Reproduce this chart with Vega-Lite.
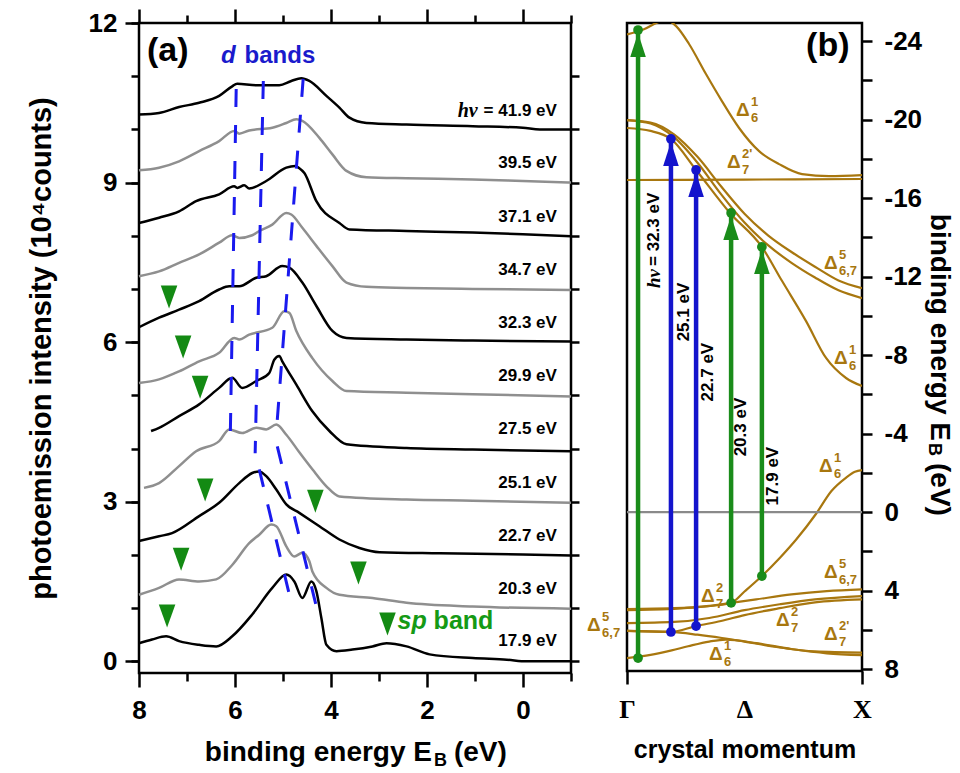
{
"$schema": "https://vega.github.io/schema/vega-lite/v6.json",
"autosize": {"type": "pad"},
"padding": {"left": 25, "top": 6, "right": 0, "bottom": 0},
"bounds": "flush",
"spacing": 56,
"background": "white",
"resolve": {"scale": {"color": "independent"}},
"config": {
 "view": {"stroke": "black", "strokeWidth": 2.5},
 "axis": {"grid": false, "domain": false, "ticks": true, "tickColor": "black", "tickWidth": 2.5, "labelFont": "Liberation Sans", "labelFontWeight": "bold", "labelFontSize": 26, "labelColor": "black", "labelFlush": false, "labelOverlap": false, "titleFont": "Liberation Sans", "titleFontWeight": "bold", "titleFontSize": 28, "titleColor": "black"},
 "text": {"font": "Liberation Sans", "fontWeight": "bold", "color": "black"}
},
"datasets": {
 "spectra": [
  {"s":"41.9","E":8.0,"I":10.28},{"s":"41.9","E":7.582,"I":10.31},{"s":"41.9","E":7.165,"I":10.42},{"s":"41.9","E":6.747,"I":10.5},{"s":"41.9","E":6.33,"I":10.63},{"s":"41.9","E":6.058,"I":10.81},{"s":"41.9","E":5.954,"I":10.86},{"s":"41.9","E":5.557,"I":10.83},{"s":"41.9","E":5.077,"I":10.83},{"s":"41.9","E":4.827,"I":10.91},{"s":"41.9","E":4.618,"I":10.96},{"s":"41.9","E":4.451,"I":10.91},{"s":"41.9","E":4.096,"I":10.63},{"s":"41.9","E":3.825,"I":10.41},{"s":"41.9","E":3.616,"I":10.22},{"s":"41.9","E":3.261,"I":10.12},{"s":"41.9","E":2.426,"I":10.09},{"s":"41.9","E":1.048,"I":10.06},{"s":"41.9","E":0.004,"I":10.03},{"s":"41.9","E":-0.351,"I":10.0},{"s":"41.9","E":-1.0,"I":10.0},
  {"s":"39.5","E":8.0,"I":9.23},{"s":"39.5","E":7.582,"I":9.28},{"s":"39.5","E":7.165,"I":9.4},{"s":"39.5","E":6.747,"I":9.59},{"s":"39.5","E":6.33,"I":9.78},{"s":"39.5","E":6.017,"I":9.97},{"s":"39.5","E":5.912,"I":9.92},{"s":"39.5","E":5.704,"I":9.98},{"s":"39.5","E":5.223,"I":10.03},{"s":"39.5","E":4.931,"I":10.12},{"s":"39.5","E":4.722,"I":10.19},{"s":"39.5","E":4.597,"I":10.16},{"s":"39.5","E":4.242,"I":9.84},{"s":"39.5","E":3.971,"I":9.53},{"s":"39.5","E":3.678,"I":9.22},{"s":"39.5","E":3.261,"I":9.1},{"s":"39.5","E":2.426,"I":9.08},{"s":"39.5","E":1.048,"I":9.06},{"s":"39.5","E":0.004,"I":9.03},{"s":"39.5","E":-1.0,"I":9.0},
  {"s":"37.1","E":8.0,"I":8.24},{"s":"37.1","E":7.582,"I":8.34},{"s":"37.1","E":7.165,"I":8.46},{"s":"37.1","E":6.81,"I":8.65},{"s":"37.1","E":6.33,"I":8.78},{"s":"37.1","E":6.017,"I":8.93},{"s":"37.1","E":5.954,"I":8.9},{"s":"37.1","E":5.808,"I":8.95},{"s":"37.1","E":5.704,"I":8.89},{"s":"37.1","E":5.349,"I":9.03},{"s":"37.1","E":4.931,"I":9.28},{"s":"37.1","E":4.743,"I":9.31},{"s":"37.1","E":4.66,"I":9.27},{"s":"37.1","E":4.555,"I":9.18},{"s":"37.1","E":4.305,"I":8.65},{"s":"37.1","E":3.825,"I":8.24},{"s":"37.1","E":3.616,"I":8.12},{"s":"37.1","E":2.426,"I":8.09},{"s":"37.1","E":1.048,"I":8.06},{"s":"37.1","E":0.004,"I":8.03},{"s":"37.1","E":-1.0,"I":7.99},
  {"s":"34.7","E":8.0,"I":7.24},{"s":"34.7","E":7.582,"I":7.33},{"s":"34.7","E":7.165,"I":7.49},{"s":"34.7","E":6.747,"I":7.65},{"s":"34.7","E":6.33,"I":7.87},{"s":"34.7","E":6.058,"I":8.01},{"s":"34.7","E":5.912,"I":7.96},{"s":"34.7","E":5.641,"I":8.01},{"s":"34.7","E":5.495,"I":8.09},{"s":"34.7","E":5.223,"I":8.21},{"s":"34.7","E":4.931,"I":8.43},{"s":"34.7","E":4.827,"I":8.4},{"s":"34.7","E":4.597,"I":8.15},{"s":"34.7","E":4.305,"I":7.81},{"s":"34.7","E":3.971,"I":7.43},{"s":"34.7","E":3.678,"I":7.12},{"s":"34.7","E":3.261,"I":7.04},{"s":"34.7","E":2.426,"I":7.02},{"s":"34.7","E":1.048,"I":7.0},{"s":"34.7","E":-1.0,"I":6.98},
  {"s":"32.3","E":8.0,"I":6.28},{"s":"32.3","E":7.582,"I":6.46},{"s":"32.3","E":7.165,"I":6.61},{"s":"32.3","E":6.747,"I":6.77},{"s":"32.3","E":6.33,"I":6.99},{"s":"32.3","E":6.121,"I":7.05},{"s":"32.3","E":5.912,"I":7.05},{"s":"32.3","E":5.557,"I":7.21},{"s":"32.3","E":5.349,"I":7.24},{"s":"32.3","E":5.015,"I":7.43},{"s":"32.3","E":4.868,"I":7.4},{"s":"32.3","E":4.597,"I":7.12},{"s":"32.3","E":4.305,"I":6.68},{"s":"32.3","E":3.971,"I":6.21},{"s":"32.3","E":3.678,"I":6.08},{"s":"32.3","E":2.426,"I":6.05},{"s":"32.3","E":1.048,"I":6.03},{"s":"32.3","E":-1.0,"I":6.01},
  {"s":"29.9","E":8.0,"I":5.23},{"s":"29.9","E":7.582,"I":5.3},{"s":"29.9","E":7.165,"I":5.45},{"s":"29.9","E":6.747,"I":5.64},{"s":"29.9","E":6.33,"I":5.8},{"s":"29.9","E":6.017,"I":6.08},{"s":"29.9","E":5.912,"I":6.05},{"s":"29.9","E":5.704,"I":6.14},{"s":"29.9","E":5.223,"I":6.27},{"s":"29.9","E":4.973,"I":6.58},{"s":"29.9","E":4.868,"I":6.55},{"s":"29.9","E":4.722,"I":6.21},{"s":"29.9","E":4.388,"I":5.7},{"s":"29.9","E":3.971,"I":5.27},{"s":"29.9","E":3.678,"I":5.08},{"s":"29.9","E":2.426,"I":5.05},{"s":"29.9","E":1.048,"I":5.02},{"s":"29.9","E":-1.0,"I":4.98},
  {"s":"27.5","E":7.749,"I":4.33},{"s":"27.5","E":7.582,"I":4.39},{"s":"27.5","E":7.165,"I":4.61},{"s":"27.5","E":6.747,"I":4.83},{"s":"27.5","E":6.33,"I":5.14},{"s":"27.5","E":6.058,"I":5.33},{"s":"27.5","E":5.85,"I":5.14},{"s":"27.5","E":5.557,"I":5.27},{"s":"27.5","E":5.286,"I":5.42},{"s":"27.5","E":5.182,"I":5.67},{"s":"27.5","E":5.077,"I":5.74},{"s":"27.5","E":5.015,"I":5.64},{"s":"27.5","E":4.722,"I":5.2},{"s":"27.5","E":4.388,"I":4.7},{"s":"27.5","E":4.033,"I":4.33},{"s":"27.5","E":3.678,"I":4.08},{"s":"27.5","E":2.426,"I":4.01},{"s":"27.5","E":1.048,"I":3.98},{"s":"27.5","E":-1.0,"I":3.95},
  {"s":"25.1","E":7.896,"I":3.26},{"s":"25.1","E":7.582,"I":3.35},{"s":"25.1","E":7.165,"I":3.67},{"s":"25.1","E":6.81,"I":3.95},{"s":"25.1","E":6.33,"I":4.14},{"s":"25.1","E":6.121,"I":4.36},{"s":"25.1","E":5.85,"I":4.29},{"s":"25.1","E":5.557,"I":4.39},{"s":"25.1","E":5.349,"I":4.36},{"s":"25.1","E":5.14,"I":4.45},{"s":"25.1","E":4.931,"I":4.26},{"s":"25.1","E":4.66,"I":3.93},{"s":"25.1","E":4.388,"I":3.61},{"s":"25.1","E":4.096,"I":3.29},{"s":"25.1","E":3.825,"I":3.1},{"s":"25.1","E":2.426,"I":3.04},{"s":"25.1","E":1.048,"I":3.02},{"s":"25.1","E":-1.0,"I":2.98},
  {"s":"22.7","E":8.0,"I":2.26},{"s":"22.7","E":7.582,"I":2.35},{"s":"22.7","E":7.311,"I":2.41},{"s":"22.7","E":6.747,"I":2.73},{"s":"22.7","E":6.33,"I":2.98},{"s":"22.7","E":5.912,"I":3.35},{"s":"22.7","E":5.641,"I":3.54},{"s":"22.7","E":5.495,"I":3.57},{"s":"22.7","E":5.349,"I":3.48},{"s":"22.7","E":5.14,"I":3.23},{"s":"22.7","E":4.931,"I":2.95},{"s":"22.7","E":4.66,"I":2.79},{"s":"22.7","E":4.242,"I":2.54},{"s":"22.7","E":3.825,"I":2.29},{"s":"22.7","E":3.407,"I":2.13},{"s":"22.7","E":2.99,"I":2.05},{"s":"22.7","E":1.737,"I":2.03},{"s":"22.7","E":0.004,"I":2.01},{"s":"22.7","E":-1.0,"I":1.99},
  {"s":"20.3","E":8.0,"I":1.25},{"s":"20.3","E":7.582,"I":1.38},{"s":"20.3","E":7.165,"I":1.54},{"s":"20.3","E":6.747,"I":1.5},{"s":"20.3","E":6.392,"I":1.54},{"s":"20.3","E":6.058,"I":1.81},{"s":"20.3","E":5.704,"I":2.22},{"s":"20.3","E":5.495,"I":2.38},{"s":"20.3","E":5.244,"I":2.57},{"s":"20.3","E":5.14,"I":2.54},{"s":"20.3","E":4.931,"I":2.16},{"s":"20.3","E":4.764,"I":1.97},{"s":"20.3","E":4.597,"I":2.04},{"s":"20.3","E":4.451,"I":1.88},{"s":"20.3","E":4.388,"I":1.69},{"s":"20.3","E":4.096,"I":1.38},{"s":"20.3","E":3.825,"I":1.25},{"s":"20.3","E":3.136,"I":1.19},{"s":"20.3","E":2.426,"I":1.1},{"s":"20.3","E":1.048,"I":1.03},{"s":"20.3","E":-1.0,"I":0.99},
  {"s":"17.9","E":8.0,"I":0.34},{"s":"17.9","E":7.729,"I":0.41},{"s":"17.9","E":7.436,"I":0.47},{"s":"17.9","E":7.165,"I":0.38},{"s":"17.9","E":6.747,"I":0.31},{"s":"17.9","E":6.392,"I":0.28},{"s":"17.9","E":6.058,"I":0.47},{"s":"17.9","E":5.641,"I":0.88},{"s":"17.9","E":5.223,"I":1.38},{"s":"17.9","E":4.931,"I":1.63},{"s":"17.9","E":4.764,"I":1.5},{"s":"17.9","E":4.597,"I":1.19},{"s":"17.9","E":4.409,"I":1.5},{"s":"17.9","E":4.305,"I":1.32},{"s":"17.9","E":4.2,"I":0.81},{"s":"17.9","E":4.096,"I":0.31},{"s":"17.9","E":3.887,"I":0.19},{"s":"17.9","E":3.553,"I":0.22},{"s":"17.9","E":3.136,"I":0.28},{"s":"17.9","E":2.843,"I":0.34},{"s":"17.9","E":2.426,"I":0.28},{"s":"17.9","E":1.946,"I":0.13},{"s":"17.9","E":1.048,"I":0.06},{"s":"17.9","E":0.338,"I":0.03},{"s":"17.9","E":-0.079,"I":0.0},{"s":"17.9","E":-1.0,"I":0.0}
 ],
 "tri": [
  {"E":7.374,"I":6.85},{"E":7.081,"I":5.91},{"E":6.727,"I":5.15},{"E":6.622,"I":3.22},{"E":4.326,"I":3.01},{"E":7.123,"I":1.92},{"E":3.428,"I":1.66},{"E":7.415,"I":0.85},{"E":2.823,"I":0.7}
 ],
 "dband": [
  {"E1":5.975,"I1":10.76,"E2":6.1,"I2":4.14},
  {"E1":5.41,"I1":10.91,"E2":5.58,"I2":3.91},
  {"E1":4.58,"I1":10.95,"E2":5.14,"I2":4.29},
  {"E1":5.495,"I1":3.61,"E2":4.848,"I2":1.18},
  {"E1":5.119,"I1":4.04,"E2":4.305,"I2":1.03}
 ],
 "slabels": [
  {"t":"= 41.9 eV","E":-0.706,"I":10.35},{"t":"39.5 eV","E":-0.706,"I":9.36},{"t":"37.1 eV","E":-0.706,"I":8.36},{"t":"34.7 eV","E":-0.706,"I":7.36},{"t":"32.3 eV","E":-0.706,"I":6.36},{"t":"29.9 eV","E":-0.706,"I":5.36},{"t":"27.5 eV","E":-0.706,"I":4.36},{"t":"25.1 eV","E":-0.706,"I":3.36},{"t":"22.7 eV","E":-0.706,"I":2.36},{"t":"20.3 eV","E":-0.706,"I":1.36},{"t":"17.9 eV","E":-0.706,"I":0.38}
 ],
 "bands": [
  {"b":"top","k":0,"E":-24.34},{"b":"top","k":0.072,"E":-24.6},{"b":"top","k":0.13,"E":-24.95},{"b":"top","k":0.165,"E":-25.08},{"b":"top","k":0.209,"E":-24.76},{"b":"top","k":0.264,"E":-23.85},{"b":"top","k":0.336,"E":-22.32},{"b":"top","k":0.404,"E":-20.94},{"b":"top","k":0.477,"E":-19.57},{"b":"top","k":0.562,"E":-18.39},{"b":"top","k":0.647,"E":-17.73},{"b":"top","k":0.745,"E":-17.22},{"b":"top","k":0.86,"E":-17.12},{"b":"top","k":1.0,"E":-17.17},
  {"b":"flat","k":0,"E":-16.92},{"b":"flat","k":0.5,"E":-16.94},{"b":"flat","k":1.0,"E":-16.97},
  {"b":"La","k":0,"E":-19.97},{"b":"La","k":0.1,"E":-19.85},{"b":"La","k":0.2,"E":-19.25},{"b":"La","k":0.3,"E":-18.1},{"b":"La","k":0.4,"E":-16.6},{"b":"La","k":0.5,"E":-15.2},{"b":"La","k":0.6,"E":-14.1},{"b":"La","k":0.7,"E":-13.25},{"b":"La","k":0.8,"E":-12.5},{"b":"La","k":0.9,"E":-11.8},{"b":"La","k":1.0,"E":-11.41},
  {"b":"Lb","k":0,"E":-19.97},{"b":"Lb","k":0.1,"E":-19.8},{"b":"Lb","k":0.2,"E":-19.1},{"b":"Lb","k":0.3,"E":-17.8},{"b":"Lb","k":0.4,"E":-16.2},{"b":"Lb","k":0.5,"E":-14.75},{"b":"Lb","k":0.6,"E":-13.6},{"b":"Lb","k":0.7,"E":-12.7},{"b":"Lb","k":0.8,"E":-11.95},{"b":"Lb","k":0.9,"E":-11.3},{"b":"Lb","k":1.0,"E":-10.9},
  {"b":"Lc","k":0,"E":-19.57},{"b":"Lc","k":0.1,"E":-19.42},{"b":"Lc","k":0.187,"E":-19.01},{"b":"Lc","k":0.294,"E":-17.43},{"b":"Lc","k":0.438,"E":-15.24},{"b":"Lc","k":0.574,"E":-13.51},{"b":"Lc","k":0.66,"E":-11.77},{"b":"Lc","k":0.762,"E":-9.73},{"b":"Lc","k":0.847,"E":-7.85},{"b":"Lc","k":0.932,"E":-6.83},{"b":"Lc","k":1.0,"E":-6.42},
  {"b":"D1","k":0,"E":5.0},{"b":"D1","k":0.1,"E":4.98},{"b":"D1","k":0.2,"E":4.93},{"b":"D1","k":0.3,"E":4.85},{"b":"D1","k":0.38,"E":4.75},{"b":"D1","k":0.443,"E":4.63},{"b":"D1","k":0.5,"E":4.05},{"b":"D1","k":0.574,"E":3.26},{"b":"D1","k":0.65,"E":2.34},{"b":"D1","k":0.72,"E":1.4},{"b":"D1","k":0.804,"E":0.1},{"b":"D1","k":0.87,"E":-1.07},{"b":"D1","k":0.93,"E":-1.73},{"b":"D1","k":0.97,"E":-2.05},{"b":"D1","k":1.0,"E":-2.14},
  {"b":"T1","k":0,"E":4.94},{"b":"T1","k":0.2,"E":4.9},{"b":"T1","k":0.35,"E":4.78},{"b":"T1","k":0.443,"E":4.63},{"b":"T1","k":0.55,"E":4.45},{"b":"T1","k":0.7,"E":4.2},{"b":"T1","k":0.85,"E":4.03},{"b":"T1","k":1.0,"E":3.94},
  {"b":"M1","k":0,"E":5.66},{"b":"M1","k":0.2,"E":5.6},{"b":"M1","k":0.35,"E":5.4},{"b":"M1","k":0.5,"E":5.0},{"b":"M1","k":0.65,"E":4.7},{"b":"M1","k":0.8,"E":4.45},{"b":"M1","k":1.0,"E":4.28},
  {"b":"M2","k":0,"E":6.06},{"b":"M2","k":0.187,"E":6.11},{"b":"M2","k":0.294,"E":5.81},{"b":"M2","k":0.4,"E":5.55},{"b":"M2","k":0.5,"E":5.25},{"b":"M2","k":0.65,"E":4.9},{"b":"M2","k":0.8,"E":4.6},{"b":"M2","k":1.0,"E":4.45},
  {"b":"L1","k":0,"E":6.06},{"b":"L1","k":0.187,"E":6.11},{"b":"L1","k":0.3,"E":6.25},{"b":"L1","k":0.404,"E":6.42},{"b":"L1","k":0.5,"E":6.6},{"b":"L1","k":0.65,"E":6.9},{"b":"L1","k":0.8,"E":7.1},{"b":"L1","k":1.0,"E":7.16},
  {"b":"L2","k":0,"E":7.44},{"b":"L2","k":0.1,"E":7.28},{"b":"L2","k":0.19,"E":7.05},{"b":"L2","k":0.26,"E":6.84},{"b":"L2","k":0.35,"E":6.6},{"b":"L2","k":0.42,"E":6.5},{"b":"L2","k":0.55,"E":6.68},{"b":"L2","k":0.7,"E":6.98},{"b":"L2","k":0.85,"E":7.2},{"b":"L2","k":1.0,"E":7.29}
 ],
 "arrows": [
  {"hv":"32.3","k":0.047,"Eb":7.44,"Et":-24.56},
  {"hv":"25.1","k":0.187,"Eb":6.11,"Et":-19.01},
  {"hv":"22.7","k":0.294,"Eb":5.81,"Et":-17.43},
  {"hv":"20.3","k":0.443,"Eb":4.63,"Et":-15.24},
  {"hv":"17.9","k":0.574,"Eb":3.26,"Et":-13.51}
 ],
 "alabels": [
  {"t":"25.1 eV","k":0.243,"E":-10.19},{"t":"22.7 eV","k":0.345,"E":-7.13},{"t":"20.3 eV","k":0.487,"E":-4.33},{"t":"17.9 eV","k":0.621,"E":-1.83}
 ],
 "blabels": [
  {"k":0.464,"E":-20.48,"sup":"1","sub":"6"},
  {"k":0.426,"E":-17.83,"sup":"2'","sub":"7"},
  {"k":0.838,"E":-12.69,"sup":"5","sub":"6,7"},
  {"k":0.881,"E":-7.85,"sup":"1","sub":"6"},
  {"k":0.817,"E":-2.34,"sup":"1","sub":"6"},
  {"k":0.838,"E":3.06,"sup":"5","sub":"6,7"},
  {"k":0.315,"E":4.28,"sup":"2","sub":"7"},
  {"k":-0.17,"E":5.76,"sup":"5","sub":"6,7"},
  {"k":0.634,"E":5.48,"sup":"2","sub":"7"},
  {"k":0.838,"E":6.22,"sup":"2'","sub":"7"},
  {"k":0.349,"E":7.24,"sup":"1","sub":"6"}
 ]
},
"hconcat": [
 {
  "width": 432, "height": 650,
  "resolve": {"axis": {"x": "independent", "y": "independent"}},
  "layer": [
   {"data": {"name": "spectra"}, "mark": {"type": "line", "strokeWidth": 2.5, "interpolate": "monotone"},
    "encoding": {
     "x": {"field": "E", "type": "quantitative", "scale": {"domain": [-1, 8], "reverse": true, "nice": false, "zero": false}, "axis": {"orient": "bottom", "values": [8, 6, 4, 2, 0], "tickSize": 14, "labelPadding": 10, "title": null}},
     "y": {"field": "I", "type": "quantitative", "scale": {"domain": [-0.22, 12], "nice": false, "zero": false}, "axis": {"orient": "left", "values": [0, 3, 6, 9, 12], "tickSize": 14, "labelPadding": 8, "title": "photoemission intensity (10⁴counts)", "titleFontSize": 29, "titlePadding": 32}},
     "color": {"field": "s", "type": "nominal", "scale": {"domain": ["41.9","39.5","37.1","34.7","32.3","29.9","27.5","25.1","22.7","20.3","17.9"], "range": ["#000000","#8f8f8f","#000000","#8f8f8f","#000000","#8f8f8f","#000000","#8f8f8f","#000000","#8f8f8f","#000000"]}, "legend": null},
     "order": {"field": "E", "sort": "descending"}
    }},
   {"data": {"name": "tri"}, "mark": {"type": "point", "shape": "M-0.72,-1L0.72,-1L0,1Z", "size": 529, "filled": true, "color": "#138a13", "opacity": 1, "strokeWidth": 0},
    "encoding": {
     "x": {"field": "E", "type": "quantitative", "scale": {"domain": [-1, 8], "reverse": true, "nice": false, "zero": false}, "axis": {"orient": "bottom", "values": [7, 5, 3, 1, -1], "tickSize": 8, "labels": false, "title": null}},
     "y": {"field": "I", "type": "quantitative", "scale": {"domain": [-0.22, 12], "nice": false, "zero": false}, "axis": {"orient": "left", "values": [0,1,2,3,4,5,6,7,8,9,10,11,12], "tickSize": 8, "labels": false, "title": null}}
    }},
   {"data": {"name": "dband"}, "mark": {"type": "rule", "color": "#1a1aee", "strokeWidth": 3, "strokeDash": [18, 18]},
    "encoding": {
     "x": {"field": "E1", "type": "quantitative", "scale": {"domain": [-1, 8], "reverse": true, "nice": false, "zero": false}, "axis": {"orient": "top", "values": [8, 6, 4, 2, 0], "tickSize": 14, "labels": false, "title": null}},
     "y": {"field": "I1", "type": "quantitative", "scale": {"domain": [-0.22, 12], "nice": false, "zero": false}, "axis": {"orient": "right", "values": [0,1,2,3,4,5,6,7,8,9,10,11], "tickSize": 8, "labels": false, "title": null}},
     "x2": {"field": "E2"},
     "y2": {"field": "I2"}
    }},
   {"data": {"name": "slabels"}, "mark": {"type": "text", "align": "right", "baseline": "middle", "fontSize": 17},
    "encoding": {
     "x": {"field": "E", "type": "quantitative", "scale": {"domain": [-1, 8], "reverse": true, "nice": false, "zero": false}, "axis": {"orient": "top", "values": [7, 5, 3, 1, -1], "tickSize": 8, "labels": false, "title": null}},
     "y": {"field": "I", "type": "quantitative", "scale": {"domain": [-0.22, 12], "nice": false, "zero": false}, "axis": null},
     "text": {"field": "t"}
    }},
   {"data": {"values": [{"t": "hν", "E": 0.944, "I": 10.35}]}, "mark": {"type": "text", "align": "right", "baseline": "middle", "fontSize": 20, "font": "Liberation Serif", "fontStyle": "italic", "fontWeight": "bold"},
    "encoding": {"x": {"field": "E", "type": "quantitative", "scale": {"domain": [-1, 8], "reverse": true, "nice": false, "zero": false}, "axis": null}, "y": {"field": "I", "type": "quantitative", "scale": {"domain": [-0.22, 12], "nice": false, "zero": false}, "axis": null}, "text": {"field": "t"}}},
   {"data": {"values": [{"t": "(a)", "E": 7.833, "I": 11.47}]}, "mark": {"type": "text", "align": "left", "baseline": "middle", "fontSize": 34},
    "encoding": {"x": {"field": "E", "type": "quantitative", "scale": {"domain": [-1, 8], "reverse": true, "nice": false, "zero": false}, "axis": null}, "y": {"field": "I", "type": "quantitative", "scale": {"domain": [-0.22, 12], "nice": false, "zero": false}, "axis": null}, "text": {"field": "t"}}},
   {"data": {"values": [{"t": "d", "E": 6.29, "I": 11.38}]}, "mark": {"type": "text", "align": "left", "baseline": "middle", "fontSize": 24, "fontStyle": "italic", "color": "#1a1acc"},
    "encoding": {"x": {"field": "E", "type": "quantitative", "scale": {"domain": [-1, 8], "reverse": true, "nice": false, "zero": false}, "axis": null}, "y": {"field": "I", "type": "quantitative", "scale": {"domain": [-0.22, 12], "nice": false, "zero": false}, "axis": null}, "text": {"field": "t"}}},
   {"data": {"values": [{"t": "bands", "E": 5.8, "I": 11.38}]}, "mark": {"type": "text", "align": "left", "baseline": "middle", "fontSize": 24, "color": "#1a1acc"},
    "encoding": {"x": {"field": "E", "type": "quantitative", "scale": {"domain": [-1, 8], "reverse": true, "nice": false, "zero": false}, "axis": null}, "y": {"field": "I", "type": "quantitative", "scale": {"domain": [-0.22, 12], "nice": false, "zero": false}, "axis": null}, "text": {"field": "t"}}},
   {"data": {"values": [{"t": "sp", "E": 2.614, "I": 0.75}]}, "mark": {"type": "text", "align": "left", "baseline": "middle", "fontSize": 25, "fontStyle": "italic", "color": "#159a15"},
    "encoding": {"x": {"field": "E", "type": "quantitative", "scale": {"domain": [-1, 8], "reverse": true, "nice": false, "zero": false}, "axis": null}, "y": {"field": "I", "type": "quantitative", "scale": {"domain": [-0.22, 12], "nice": false, "zero": false}, "axis": null}, "text": {"field": "t"}}},
   {"data": {"values": [{"t": "band", "E": 1.862, "I": 0.75}]}, "mark": {"type": "text", "align": "left", "baseline": "middle", "fontSize": 25, "color": "#159a15"},
    "encoding": {"x": {"field": "E", "type": "quantitative", "scale": {"domain": [-1, 8], "reverse": true, "nice": false, "zero": false}, "axis": null}, "y": {"field": "I", "type": "quantitative", "scale": {"domain": [-0.22, 12], "nice": false, "zero": false}, "axis": null}, "text": {"field": "t"}}},
   {"data": {"values": [{"t": "binding energy E", "E": 1.896, "I": -1.724}]}, "mark": {"type": "text", "align": "right", "baseline": "middle", "fontSize": 28},
    "encoding": {"x": {"field": "E", "type": "quantitative", "scale": {"domain": [-1, 8], "reverse": true, "nice": false, "zero": false}, "axis": null}, "y": {"field": "I", "type": "quantitative", "scale": {"domain": [-0.22, 12], "nice": false, "zero": false}, "axis": null}, "text": {"field": "t"}}},
   {"data": {"values": [{"t": "B", "E": 1.854, "I": -1.88}]}, "mark": {"type": "text", "align": "left", "baseline": "middle", "fontSize": 18},
    "encoding": {"x": {"field": "E", "type": "quantitative", "scale": {"domain": [-1, 8], "reverse": true, "nice": false, "zero": false}, "axis": null}, "y": {"field": "I", "type": "quantitative", "scale": {"domain": [-0.22, 12], "nice": false, "zero": false}, "axis": null}, "text": {"field": "t"}}},
   {"data": {"values": [{"t": "(eV)", "E": 1.44, "I": -1.724}]}, "mark": {"type": "text", "align": "left", "baseline": "middle", "fontSize": 28},
    "encoding": {"x": {"field": "E", "type": "quantitative", "scale": {"domain": [-1, 8], "reverse": true, "nice": false, "zero": false}, "axis": null}, "y": {"field": "I", "type": "quantitative", "scale": {"domain": [-0.22, 12], "nice": false, "zero": false}, "axis": null}, "text": {"field": "t"}}}
  ]
 },
 {
  "width": 235, "height": 648,
  "resolve": {"axis": {"x": "independent", "y": "independent"}},
  "layer": [
   {"data": {"name": "bands"}, "mark": {"type": "line", "strokeWidth": 2.2, "color": "#a8770f", "interpolate": "monotone", "clip": true},
    "encoding": {
     "x": {"field": "k", "type": "quantitative", "scale": {"domain": [0, 1], "nice": false, "zero": false}, "axis": {"orient": "bottom", "values": [0, 0.5, 1], "labelExpr": "datum.value == 0 ? 'Γ' : (datum.value == 1 ? 'X' : 'Δ')", "labelFont": "Liberation Serif", "labelFontSize": 26, "tickSize": 13, "tickOpacity": {"condition": {"test": "datum.value == 0.5", "value": 0}, "value": 1}, "labelPadding": 12, "title": "crystal momentum", "titleFontSize": 25, "titlePadding": 15}},
     "y": {"field": "E", "type": "quantitative", "scale": {"domain": [-24.92, 8.1], "reverse": true, "nice": false, "zero": false}, "axis": {"orient": "right", "values": [-24,-22,-20,-18,-16,-14,-12,-10,-8,-6,-4,-2,0,2,4,6,8], "labelExpr": "datum.value % 4 == 0 ? (datum.value < 0 ? '-' + abs(datum.value) : '' + datum.value) : ''", "tickSize": 10, "labelPadding": 12, "title": null}},
     "detail": {"field": "b", "type": "nominal"},
     "order": {"field": "k", "sort": "ascending"}
    }},
   {"data": {"values": [{"E": 0}]}, "mark": {"type": "rule", "color": "#8a8a8a", "strokeWidth": 2.2},
    "encoding": {"y": {"field": "E", "type": "quantitative", "scale": {"domain": [-24.92, 8.1], "reverse": true, "nice": false, "zero": false}, "axis": null}}},
   {"data": {"name": "arrows"}, "mark": {"type": "rule", "strokeWidth": 4.5},
    "encoding": {
     "x": {"field": "k", "type": "quantitative", "scale": {"domain": [0, 1], "nice": false, "zero": false}, "axis": null},
     "y": {"field": "Eb", "type": "quantitative", "scale": {"domain": [-24.92, 8.1], "reverse": true, "nice": false, "zero": false}, "axis": null},
     "y2": {"field": "Et"},
     "color": {"field": "hv", "type": "nominal", "scale": {"domain": ["32.3","25.1","22.7","20.3","17.9"], "range": ["#1a8c1a","#1414cc","#1414cc","#1a8c1a","#1a8c1a"]}, "legend": null}
    }},
   {"data": {"name": "arrows"}, "mark": {"type": "point", "shape": "M0,-1L0.65,1L-0.65,1Z", "size": 576, "filled": true, "opacity": 1, "strokeWidth": 0, "yOffset": 15},
    "encoding": {
     "x": {"field": "k", "type": "quantitative", "scale": {"domain": [0, 1], "nice": false, "zero": false}, "axis": null},
     "y": {"field": "Et", "type": "quantitative", "scale": {"domain": [-24.92, 8.1], "reverse": true, "nice": false, "zero": false}, "axis": null},
     "color": {"field": "hv", "type": "nominal", "scale": {"domain": ["32.3","25.1","22.7","20.3","17.9"], "range": ["#1a8c1a","#1414cc","#1414cc","#1a8c1a","#1a8c1a"]}, "legend": null}
    }},
   {"data": {"name": "arrows"}, "mark": {"type": "circle", "size": 95, "opacity": 1},
    "encoding": {
     "x": {"field": "k", "type": "quantitative", "scale": {"domain": [0, 1], "nice": false, "zero": false}, "axis": null},
     "y": {"field": "Eb", "type": "quantitative", "scale": {"domain": [-24.92, 8.1], "reverse": true, "nice": false, "zero": false}, "axis": null},
     "color": {"field": "hv", "type": "nominal", "scale": {"domain": ["32.3","25.1","22.7","20.3","17.9"], "range": ["#1a8c1a","#1414cc","#1414cc","#1a8c1a","#1a8c1a"]}, "legend": null}
    }},
   {"data": {"name": "arrows"}, "mark": {"type": "circle", "size": 95, "opacity": 1},
    "encoding": {
     "x": {"field": "k", "type": "quantitative", "scale": {"domain": [0, 1], "nice": false, "zero": false}, "axis": null},
     "y": {"field": "Et", "type": "quantitative", "scale": {"domain": [-24.92, 8.1], "reverse": true, "nice": false, "zero": false}, "axis": null},
     "color": {"field": "hv", "type": "nominal", "scale": {"domain": ["32.3","25.1","22.7","20.3","17.9"], "range": ["#1a8c1a","#1414cc","#1414cc","#1a8c1a","#1a8c1a"]}, "legend": null}
    }},
   {"data": {"name": "alabels"}, "mark": {"type": "text", "angle": 270, "align": "center", "baseline": "middle", "fontSize": 17},
    "encoding": {
     "x": {"field": "k", "type": "quantitative", "scale": {"domain": [0, 1], "nice": false, "zero": false}, "axis": null},
     "y": {"field": "E", "type": "quantitative", "scale": {"domain": [-24.92, 8.1], "reverse": true, "nice": false, "zero": false}, "axis": null},
     "text": {"field": "t"}
    }},
   {"data": {"values": [{"t": "= 32.3 eV", "k": 0.115, "E": -12.54}]}, "mark": {"type": "text", "angle": 270, "align": "left", "baseline": "middle", "fontSize": 17},
    "encoding": {"x": {"field": "k", "type": "quantitative", "scale": {"domain": [0, 1], "nice": false, "zero": false}, "axis": null}, "y": {"field": "E", "type": "quantitative", "scale": {"domain": [-24.92, 8.1], "reverse": true, "nice": false, "zero": false}, "axis": null}, "text": {"field": "t"}}},
   {"data": {"values": [{"t": "hν", "k": 0.115, "E": -12.38}]}, "mark": {"type": "text", "angle": 270, "align": "right", "baseline": "middle", "fontSize": 19, "font": "Liberation Serif", "fontStyle": "italic", "fontWeight": "bold"},
    "encoding": {"x": {"field": "k", "type": "quantitative", "scale": {"domain": [0, 1], "nice": false, "zero": false}, "axis": null}, "y": {"field": "E", "type": "quantitative", "scale": {"domain": [-24.92, 8.1], "reverse": true, "nice": false, "zero": false}, "axis": null}, "text": {"field": "t"}}},
   {"data": {"name": "blabels"}, "mark": {"type": "text", "text": "Δ", "align": "left", "baseline": "middle", "fontSize": 19, "color": "#a8770f"},
    "encoding": {"x": {"field": "k", "type": "quantitative", "scale": {"domain": [0, 1], "nice": false, "zero": false}, "axis": null}, "y": {"field": "E", "type": "quantitative", "scale": {"domain": [-24.92, 8.1], "reverse": true, "nice": false, "zero": false}, "axis": null}}},
   {"data": {"name": "blabels"}, "mark": {"type": "text", "align": "left", "baseline": "middle", "fontSize": 13, "dx": 15, "dy": -8, "color": "#a8770f"},
    "encoding": {"x": {"field": "k", "type": "quantitative", "scale": {"domain": [0, 1], "nice": false, "zero": false}, "axis": null}, "y": {"field": "E", "type": "quantitative", "scale": {"domain": [-24.92, 8.1], "reverse": true, "nice": false, "zero": false}, "axis": null}, "text": {"field": "sup"}}},
   {"data": {"name": "blabels"}, "mark": {"type": "text", "align": "left", "baseline": "middle", "fontSize": 13, "dx": 15, "dy": 8, "color": "#a8770f"},
    "encoding": {"x": {"field": "k", "type": "quantitative", "scale": {"domain": [0, 1], "nice": false, "zero": false}, "axis": null}, "y": {"field": "E", "type": "quantitative", "scale": {"domain": [-24.92, 8.1], "reverse": true, "nice": false, "zero": false}, "axis": null}, "text": {"field": "sub"}}},
   {"data": {"values": [{"t": "(b)", "k": 0.762, "E": -23.75}]}, "mark": {"type": "text", "align": "left", "baseline": "middle", "fontSize": 34},
    "encoding": {"x": {"field": "k", "type": "quantitative", "scale": {"domain": [0, 1], "nice": false, "zero": false}, "axis": null}, "y": {"field": "E", "type": "quantitative", "scale": {"domain": [-24.92, 8.1], "reverse": true, "nice": false, "zero": false}, "axis": null}, "text": {"field": "t"}}},
   {"data": {"values": [{"t": "binding energy E", "k": 1.328, "E": -3.62}]}, "mark": {"type": "text", "angle": 90, "align": "right", "baseline": "middle", "fontSize": 28},
    "encoding": {"x": {"field": "k", "type": "quantitative", "scale": {"domain": [0, 1], "nice": false, "zero": false}, "axis": null}, "y": {"field": "E", "type": "quantitative", "scale": {"domain": [-24.92, 8.1], "reverse": true, "nice": false, "zero": false}, "axis": null}, "text": {"field": "t"}}},
   {"data": {"values": [{"t": "B", "k": 1.305, "E": -3.52}]}, "mark": {"type": "text", "angle": 90, "align": "left", "baseline": "middle", "fontSize": 18},
    "encoding": {"x": {"field": "k", "type": "quantitative", "scale": {"domain": [0, 1], "nice": false, "zero": false}, "axis": null}, "y": {"field": "E", "type": "quantitative", "scale": {"domain": [-24.92, 8.1], "reverse": true, "nice": false, "zero": false}, "axis": null}, "text": {"field": "t"}}},
   {"data": {"values": [{"t": "(eV)", "k": 1.328, "E": -2.5}]}, "mark": {"type": "text", "angle": 90, "align": "left", "baseline": "middle", "fontSize": 28},
    "encoding": {"x": {"field": "k", "type": "quantitative", "scale": {"domain": [0, 1], "nice": false, "zero": false}, "axis": null}, "y": {"field": "E", "type": "quantitative", "scale": {"domain": [-24.92, 8.1], "reverse": true, "nice": false, "zero": false}, "axis": null}, "text": {"field": "t"}}}
  ]
 }
]
}
